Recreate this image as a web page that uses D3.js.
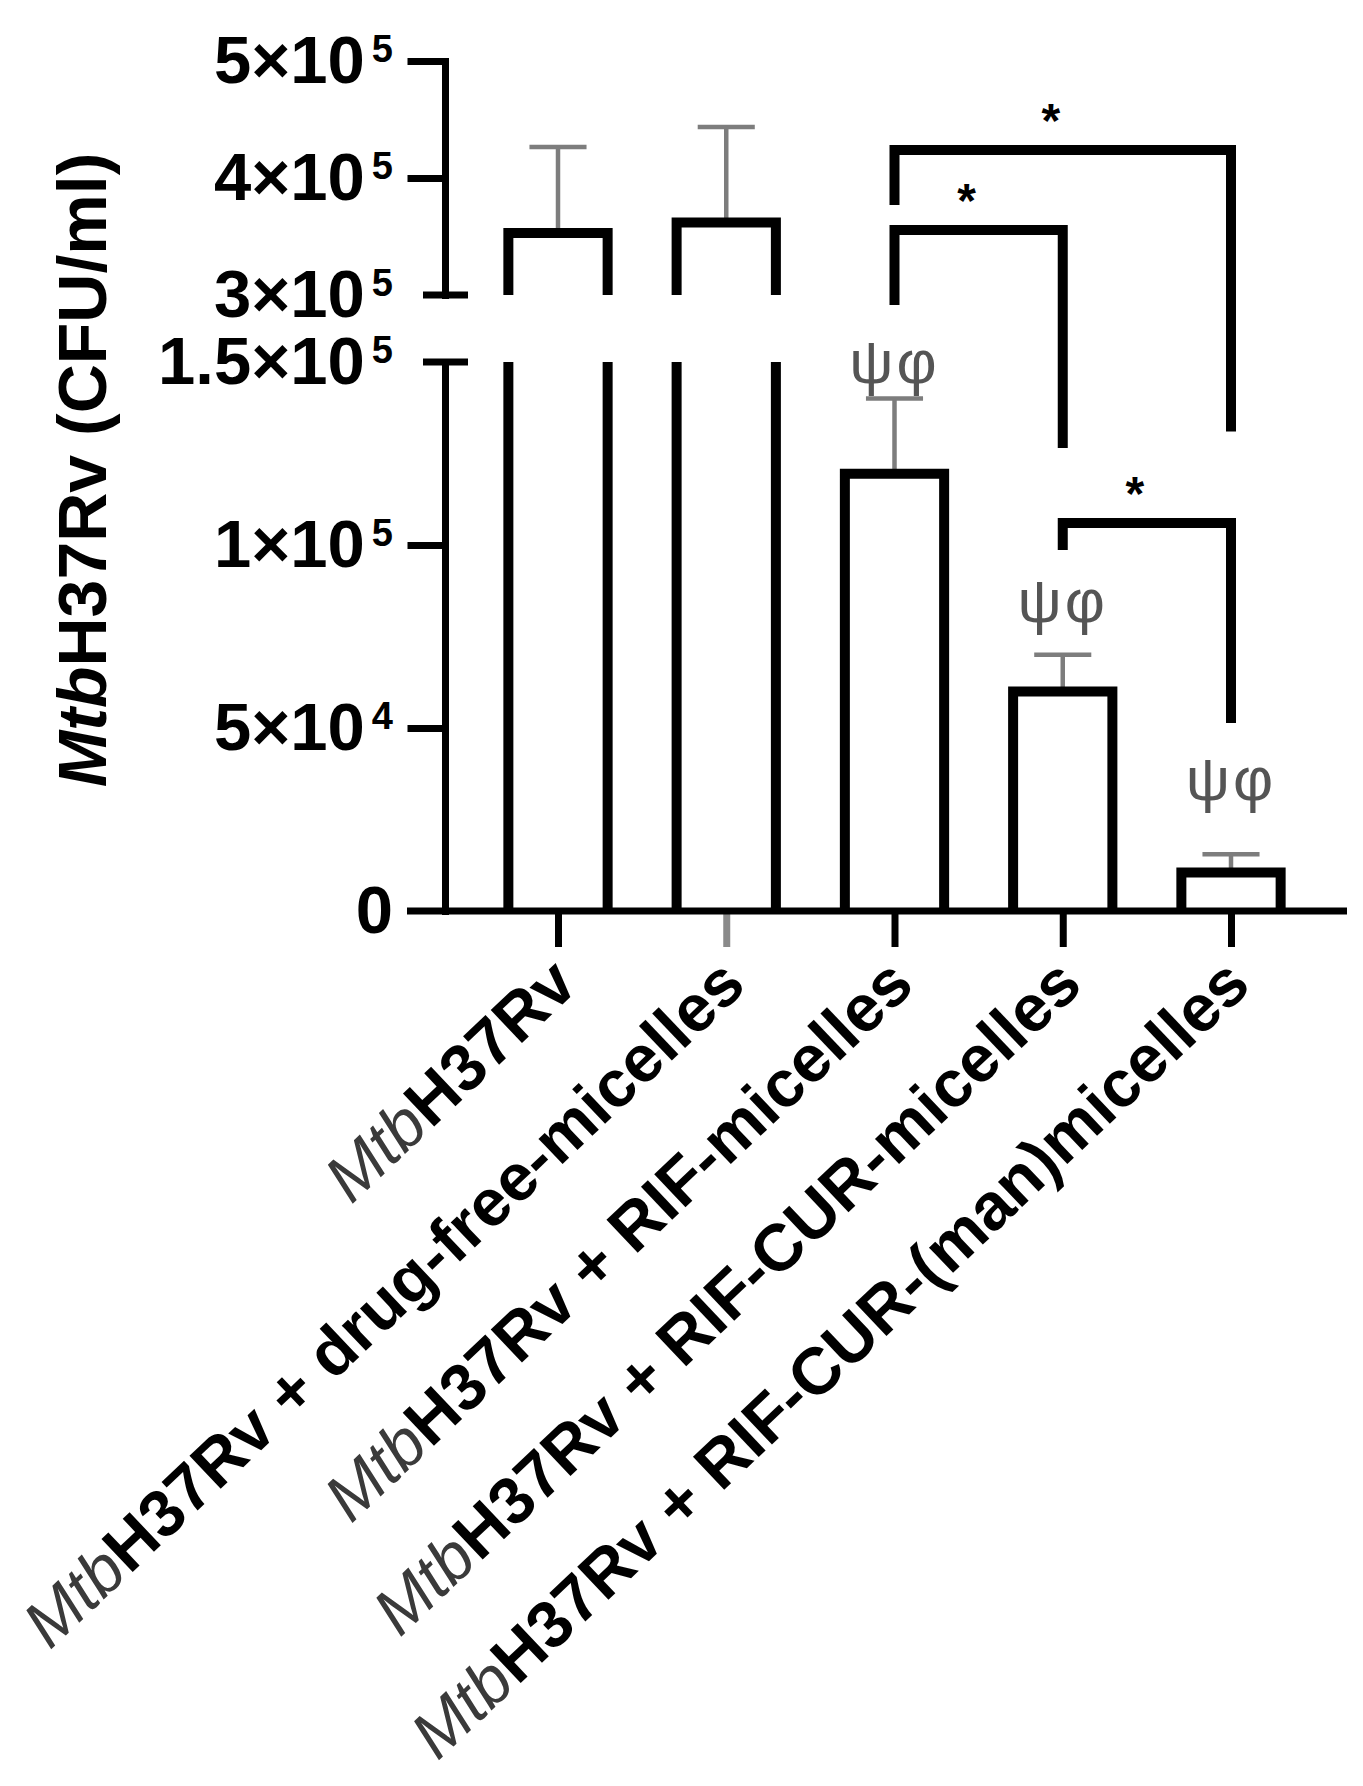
<!DOCTYPE html>
<html>
<head>
<meta charset="utf-8">
<script src="https://cdn.jsdelivr.net/npm/d3@7"></script>
<style>
  html, body { margin: 0; padding: 0; background: #ffffff; }
  svg { display: block; }
  text { font-family: "Liberation Sans", Arial, sans-serif; }
</style>
</head>
<body>
<svg id="chart" width="1363" height="1786"></svg>
<script>
// ---------------- data ----------------
const categoryPrefix = ["Mtb", "Mtb", "Mtb", "Mtb", "Mtb"];
const categoryRest = [
  "H37Rv",
  "H37Rv + drug-free-micelles",
  "H37Rv + RIF-micelles",
  "H37Rv + RIF-CUR-micelles",
  "H37Rv + RIF-CUR-(man)micelles"
];
const meanCFU = [353000, 362000, 119500, 60000, 10500];
const sdCFU   = [73500, 81600, 20500, 10000, 5000];

const lowerTicks = [0, 50000, 100000, 150000];
const lowerTickMantissa = ["0", "5×10", "1×10", "1.5×10"];
const lowerTickExponent = ["", "4", "5", "5"];
const upperTicks = [300000, 400000, 500000];
const upperTickMantissa = ["3×10", "4×10", "5×10"];
const upperTickExponent = ["5", "5", "5"];

const bracketFrom     = [2, 2, 3];
const bracketTo       = [4, 3, 4];
const bracketLevel    = [424000, 355600, 106000];
const bracketLeftEnd  = [377000, 277600, 98600];
const bracketRightEnd = [131000, 126500, 51400];
const bracketLabel    = ["*", "*", "*"];

const greekCategory = [2, 3, 4];
const greekValue    = [152000, 84700, 36300];
const greekText     = ["ψφ", "ψφ", "ψφ"];

const yTitlePrefix = "Mtb";
const yTitleRest = "H37Rv (CFU/ml)";

// ---------------- scales ----------------
const svg = d3.select("#chart");
const axisX = 445, baseY = 911;

const yLower = d3.scaleLinear().domain([0, 150000]).range([911, 362]);
const yGap   = d3.scaleLinear().domain([150000, 300000]).range([362, 295]);
const yUpper = d3.scaleLinear().domain([300000, 500000]).range([295, 61]);
const y = v => v <= 150000 ? yLower(v) : (v < 300000 ? yGap(v) : yUpper(v));

const x = d3.scalePoint().domain(d3.range(categoryRest.length)).range([558, 1231]);
const barW = x.step() * 0.59;
const capW = barW * 0.575;

const BLACK = "#000";
const ERR = "#7d7d7d";

// ---------------- error bars ----------------
const gErr = svg.append("g");
meanCFU.forEach((m, i) => {
  const top = m + sdCFU[i];
  gErr.append("line")
    .attr("x1", x(i)).attr("x2", x(i))
    .attr("y1", y(m)).attr("y2", y(top))
    .attr("stroke", ERR).attr("stroke-width", 4.5);
  gErr.append("line")
    .attr("x1", x(i) - capW / 2).attr("x2", x(i) + capW / 2)
    .attr("y1", y(top)).attr("y2", y(top))
    .attr("stroke", ERR).attr("stroke-width", 4.5);
});

// ---------------- bars ----------------
const gBars = svg.append("g")
  .attr("fill", "none").attr("stroke", BLACK)
  .attr("stroke-width", 10).attr("stroke-linejoin", "miter");
meanCFU.forEach((m, i) => {
  const l = x(i) - barW / 2, r = x(i) + barW / 2;
  if (m <= 150000) {
    gBars.append("path").attr("d", `M${l},${baseY}V${y(m)}H${r}V${baseY}`);
  } else {
    gBars.append("path").attr("d", `M${l},${yUpper(300000)}V${y(m)}H${r}V${yUpper(300000)}`);
    gBars.append("path").attr("d", `M${l},${yLower(150000)}V${baseY}M${r},${yLower(150000)}V${baseY}`);
  }
});

// ---------------- y axes (broken) ----------------
function styleAxis(g) {
  g.select(".domain").attr("stroke", BLACK).attr("stroke-width", 7).attr("stroke-linecap", "square");
  g.selectAll(".tick line").attr("stroke", BLACK).attr("stroke-width", 7).attr("stroke-linecap", "square");
  g.selectAll(".tick text").remove();
}
svg.append("g").attr("transform", `translate(${axisX},0)`)
  .call(d3.axisLeft(yUpper).tickValues(upperTicks.filter(t => t > 300000))
        .tickSize(34).tickSizeOuter(0).tickFormat(""))
  .call(styleAxis);
svg.append("g").attr("transform", `translate(${axisX},0)`)
  .call(d3.axisLeft(yLower).tickValues(lowerTicks.filter(t => t < 150000 && t > 0))
        .tickSize(34).tickSizeOuter(0).tickFormat(""))
  .call(styleAxis);

// break caps
[yUpper(300000), yLower(150000)].forEach(yy => {
  svg.append("line").attr("x1", axisX - 22).attr("x2", axisX + 23)
    .attr("y1", yy).attr("y2", yy)
    .attr("stroke", BLACK).attr("stroke-width", 7);
});

// tick labels
function tickLabel(val, mant, expo, scale) {
  const t = svg.append("text")
    .attr("x", 393).attr("y", scale(val) + 22)
    .attr("text-anchor", "end")
    .attr("font-size", 67).attr("font-weight", "bold").attr("fill", BLACK);
  t.append("tspan").text(mant);
  if (expo) t.append("tspan").attr("dx", 7).attr("dy", -21).attr("font-size", 38).text(expo);
}
lowerTicks.forEach((v, i) => tickLabel(v, lowerTickMantissa[i], lowerTickExponent[i], yLower));
upperTicks.forEach((v, i) => tickLabel(v, upperTickMantissa[i], upperTickExponent[i], yUpper));

// ---------------- x axis ----------------
const gx = svg.append("g").attr("transform", `translate(0,${baseY})`)
  .call(d3.axisBottom(x).tickSize(36).tickFormat(""));
gx.select(".domain").remove();
gx.selectAll(".tick line").attr("stroke-width", 7)
  .attr("stroke", (d) => d === 1 ? "#8a8a8a" : BLACK);
svg.append("line").attr("x1", 407).attr("x2", 1347)
  .attr("y1", baseY).attr("y2", baseY)
  .attr("stroke", BLACK).attr("stroke-width", 7);

// category labels
categoryRest.forEach((rest, i) => {
  const t = svg.append("text")
    .attr("transform", `translate(${x(i) + 22},988) rotate(-43.5)`)
    .attr("text-anchor", "end")
    .attr("font-size", 66);
  t.append("tspan").attr("font-style", "italic").attr("fill", "#3a3a3a").text(categoryPrefix[i]);
  t.append("tspan").attr("font-weight", "bold").attr("fill", BLACK).text(rest);
});

// ---------------- y title ----------------
const yt = svg.append("text")
  .attr("transform", `translate(106,470) rotate(-90)`)
  .attr("text-anchor", "middle")
  .attr("font-size", 68).attr("font-weight", "bold").attr("fill", BLACK);
yt.append("tspan").attr("font-style", "italic").text(yTitlePrefix);
yt.append("tspan").text(yTitleRest);

// ---------------- significance brackets ----------------
const gBr = svg.append("g");
bracketFrom.forEach((f, k) => {
  const xl = x(f), xr = x(bracketTo[k]);
  gBr.append("path")
    .attr("d", `M${xl},${y(bracketLeftEnd[k])}V${y(bracketLevel[k])}H${xr}V${y(bracketRightEnd[k])}`)
    .attr("fill", "none").attr("stroke", BLACK).attr("stroke-width", 10)
    .attr("stroke-linejoin", "miter");
  gBr.append("text")
    .attr("x", (xl + xr) / 2 - 12)
    .attr("y", y(bracketLevel[k]) - 40 + 27)
    .attr("text-anchor", "middle")
    .attr("font-size", 48).attr("font-weight", "bold").attr("fill", BLACK)
    .text(bracketLabel[k]);
});

// ---------------- greek annotations ----------------
greekCategory.forEach((c, k) => {
  svg.append("text")
    .attr("x", x(c)).attr("y", y(greekValue[k]))
    .attr("text-anchor", "middle").attr("dominant-baseline", "central")
    .attr("font-size", 62).attr("letter-spacing", 3).attr("fill", "#555")
    .text(greekText[k]);
});
</script>
</body>
</html>
